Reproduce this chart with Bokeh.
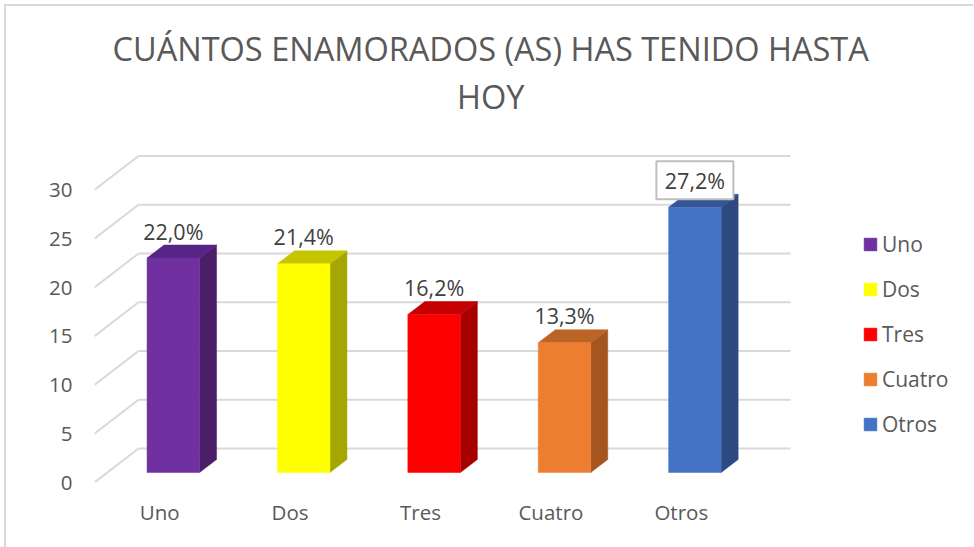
from bokeh.plotting import figure
from bokeh.models import (Range1d, FixedTicker, Legend, LegendItem, Title)
from bokeh.core.properties import value
from bokeh.embed import file_html
from bokeh.resources import INLINE

title_text = "CUÁNTOS ENAMORADOS (AS) HAS TENIDO HASTA\nHOY"
categories = ["Uno", "Dos", "Tres", "Cuatro", "Otros"]
values = [22.0, 21.4, 16.2, 13.3, 27.2]
value_labels = ["22,0%", "21,4%", "16,2%", "13,3%", "27,2%"]
front_colors = ["#7030A0", "#FFFF00", "#FF0000", "#ED7D31", "#4472C4"]
side_colors = ["#4A1F68", "#A6A600", "#A60000", "#A5561F", "#2C4A80"]
top_colors = ["#572585", "#C4C400", "#C40000", "#BC6326", "#335595"]
y_ticks = [0, 5, 10, 15, 20, 25, 30]

FONT = "Open Sans"
TXT = "#595959"
GRID = "#D9D9D9"

PX_X, PX_Y = 130.4, 9.75
FRAME_W, FRAME_H = 879, 352
DX, DY = 44 / PX_X, 34 / PX_Y
BAR_W = 52.5 / PX_X
OFF_X, OFF_Y = 13.6 / PX_X, 10 / PX_Y
BDX, BDY = 17 / PX_X, 13 / PX_Y

p = figure(width=974, height=547, frame_width=FRAME_W, frame_height=FRAME_H,
           output_backend="svg", toolbar_location=None,
           x_range=Range1d(-0.5, -0.5 + FRAME_W / PX_X),
           y_range=Range1d(0, FRAME_H / PX_Y),
           min_border_left=94, min_border_bottom=65, min_border_top=130, min_border_right=0,
           border_fill_color=None, background_fill_color=None,
           styles={"background":
                   "linear-gradient(#D9D9D9,#D9D9D9) 4px 4px / 100% 2px no-repeat,"
                   "linear-gradient(#D9D9D9,#D9D9D9) 4px 4px / 2px 100% no-repeat"})
p.outline_line_color = None
p.xgrid.visible = False
p.ygrid.visible = False

p.title = Title(text=title_text, align="left", offset=18, standoff=24,
                text_font=FONT, text_font_size="32.5px", text_font_style="normal",
                text_color=TXT, text_line_height=1.05)
p.title.text_align = "center"

for ax in (p.xaxis[0], p.yaxis[0]):
    ax.axis_line_color = None
    ax.major_tick_line_color = None
    ax.minor_tick_line_color = None
    ax.major_label_text_font = FONT
    ax.major_label_text_font_size = "20.5px"
    ax.major_label_text_color = TXT
p.yaxis[0].ticker = FixedTicker(ticks=y_ticks)
p.yaxis[0].major_label_standoff = 16
p.xaxis[0].ticker = FixedTicker(ticks=list(range(len(categories))))
p.xaxis[0].major_label_overrides = {i: c for i, c in enumerate(categories)}
p.xaxis[0].major_label_standoff = 9

x_left, x_wall = -0.5, -0.5 + DX
x_right = x_wall + len(categories)
p.segment([x_left] * len(y_ticks), y_ticks, [x_wall] * len(y_ticks), [t + DY for t in y_ticks],
          line_color=GRID, line_width=2)
p.segment([x_wall] * len(y_ticks), [t + DY for t in y_ticks], [x_right] * len(y_ticks),
          [t + DY for t in y_ticks], line_color=GRID, line_width=2)

lefts = [i - 0.5 * BAR_W + OFF_X for i in range(len(values))]
rights = [l + BAR_W for l in lefts]
tops = [v + OFF_Y for v in values]
bottoms = [OFF_Y] * len(values)

p.patches([[r, r + BDX, r + BDX, r] for r in rights],
          [[b, b + BDY, t + BDY, t] for b, t in zip(bottoms, tops)],
          fill_color=side_colors, line_color=side_colors, line_width=0.5)
p.patches([[l, r, r + BDX, l + BDX] for l, r in zip(lefts, rights)],
          [[t, t, t + BDY, t + BDY] for t in tops],
          fill_color=top_colors, line_color=top_colors, line_width=0.5)
front = p.quad(left=lefts, right=rights, bottom=bottoms, top=tops,
               fill_color=front_colors, line_color=front_colors, line_width=0.5)

label_x = [(l + r) / 2 for l, r in zip(lefts, rights)]
label_y = [t + 27 / PX_Y for t in tops]
p.quad(left=[label_x[-1] - 38.5 / PX_X], right=[label_x[-1] + 38.5 / PX_X],
       bottom=[label_y[-1] - 19 / PX_Y], top=[label_y[-1] + 19 / PX_Y],
       fill_color="white", line_color="#BFBFBF", line_width=2)
p.text(label_x, label_y, text=value_labels, text_font=value(FONT), text_font_size="21.5px",
       text_color="#404040", text_align="center", text_baseline="middle")

legend = Legend(items=[LegendItem(label=c, renderers=[front], index=i)
                       for i, c in enumerate(categories)],
                location=(768, 44), orientation="vertical",
                border_line_color=None, background_fill_alpha=0,
                glyph_width=16, glyph_height=16, label_standoff=4,
                label_height=20, spacing=17, padding=0, margin=0,
                label_text_font=FONT, label_text_font_size="21px", label_text_color=TXT)
p.add_layout(legend)

open("out.html", "w").write(file_html(p, INLINE))
